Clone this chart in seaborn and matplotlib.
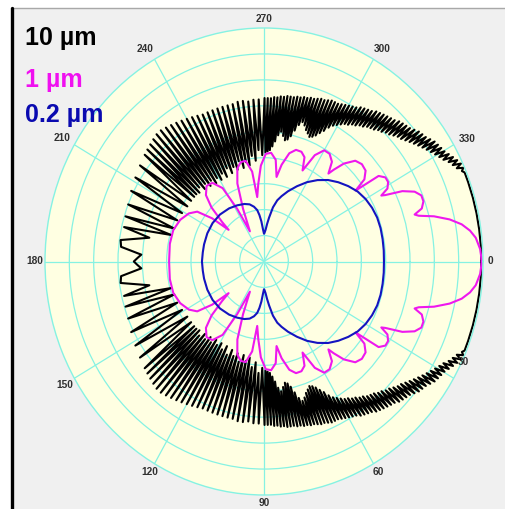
import numpy as np
import pandas as pd
import matplotlib
matplotlib.use("Agg")
import matplotlib.pyplot as plt
import seaborn as sns
from matplotlib.lines import Line2D
from matplotlib.patches import Rectangle

# ---------------- data (half pattern 0..180 deg, radius in ring units, log scale) -------------
blue_theta = [0, 5, 10, 15, 20, 25, 30, 35, 40, 45, 50, 55, 60, 65, 70, 74, 77, 80, 83, 85, 87,
              89, 90, 92, 94, 96, 98, 101, 105, 110, 117, 125, 135, 145, 155, 165, 172, 180]
blue_r = [4.93, 4.94, 4.95, 4.96, 4.95, 4.9, 4.82, 4.7, 4.52, 4.32, 4.1, 3.83, 3.53, 3.2, 2.88,
          2.62, 2.42, 2.12, 1.7, 1.45, 1.22, 1.1, 1.07, 1.25, 1.55, 1.8, 2.0, 2.15, 2.28, 2.36,
          2.43, 2.5, 2.56, 2.58, 2.57, 2.55, 2.54, 2.55]

magenta_theta = [0, 3, 6, 8, 10, 12, 14, 15.5, 16.3, 17.5, 19.5, 21.5, 23.5, 25.5, 27.2, 27.8,
                 29, 31, 33, 35, 36, 37.5, 40, 43, 46, 49, 51, 52, 54, 57, 60, 63, 65.7,
                 67.5, 70, 73, 76, 79, 81, 83, 86, 89, 92, 94.5, 96.4, 98, 101, 104, 107,
                 110, 113, 116.5, 118.5, 121, 125, 129, 133, 136, 138.5, 140, 142, 145, 149,
                 155, 162, 170, 180]
magenta_r = [8.95, 8.9, 8.75, 8.55, 8.25, 7.8, 7.2, 6.6, 6.45, 6.8, 6.95, 6.95, 6.75, 6.3, 5.6, 5.45,
             5.8, 5.95, 5.95, 5.75, 4.65, 5.2, 5.45, 5.5, 5.4, 5.0, 4.55, 4.3, 4.75, 4.95, 4.95, 4.6, 3.85,
             4.35, 4.5, 4.5, 4.3, 3.8, 3.3, 3.95, 4.2, 4.15, 3.7, 3.0, 2.5, 3.5, 3.95, 3.95, 3.75,
             3.2, 2.2, 1.3, 2.3, 3.3, 3.7, 3.75, 3.5, 3.0, 2.3, 1.9, 2.7, 3.35, 3.6,
             3.8, 3.92, 3.93, 3.9]

black_theta = [0, 4, 8, 12, 16, 20,
               22.0, 22.6, 23.2, 23.8, 24.4, 25.0, 25.6, 26.2, 26.8, 27.4,
               28.0, 28.6, 29.2, 29.8, 30.4, 31.0, 31.6, 32.2, 32.8, 33.4,
               34.0, 34.6, 35.2, 35.8, 36.4, 37.0, 37.6, 38.2, 38.8, 39.4,
               40.0, 40.6, 41.2, 41.8, 42.4, 43.0, 43.6, 44.2, 44.8, 45.4,
               46.0, 46.6, 47.2, 47.8, 48.4, 49.0, 49.6, 50.2, 50.8, 51.4,
               52.0, 52.6, 53.2, 53.8, 54.4, 55.0, 55.6, 56.2, 56.8, 57.4,
               58.0, 58.6, 59.2, 59.8, 60.4, 61.0, 61.6, 62.2, 62.8, 63.4,
               64.0, 64.6, 65.2, 65.8, 66.4, 67.0, 67.6, 68.2, 68.8, 69.4,
               70.0, 70.6, 71.2, 71.8, 72.4, 73.0, 73.6, 74.2, 74.8, 75.4,
               76.0, 76.6, 77.2, 77.8, 78.4, 79.0, 79.6, 80.2, 80.8, 81.4,
               82.0, 82.6, 83.2, 83.8, 84.4, 85.0, 85.6, 86.2, 86.8, 87.4,
               88.0, 88.6, 89.2, 89.8,
               91, 92, 93, 94, 95, 96, 97, 98, 99, 100,
               101, 102, 103, 104, 105, 106, 107, 108, 109, 110,
               111, 112, 113, 114, 115, 116, 117, 118, 119, 120,
               121, 122, 123, 124, 125, 126, 127, 128, 129, 130,
               131, 132, 133, 134, 135, 136, 137, 138, 139, 140,
               142, 144, 146, 148.5, 151, 153.5, 156, 158.5, 161, 163,
               165, 167, 169, 172, 174.5, 177, 178.5, 180]
black_r = [8.93, 8.93, 8.93, 8.93, 8.93, 8.93,
           8.93, 8.93, 8.85, 8.95, 8.7, 8.93, 8.6, 8.85, 8.5, 8.75,
           8.35, 8.65, 8.25, 8.55, 8.15, 8.5, 8.05, 8.45, 7.95, 8.4,
           7.85, 8.3, 7.75, 8.2, 7.65, 8.15, 7.55, 8.1, 7.45, 8.0,
           7.35, 7.9, 7.3, 7.85, 7.2, 7.8, 7.1, 7.75, 7.05, 7.65,
           6.95, 7.6, 6.9, 7.55, 6.8, 7.5, 6.75, 7.45, 6.7, 7.4,
           6.6, 7.3, 6.55, 7.25, 6.45, 7.2, 6.4, 7.15, 6.3, 7.05,
           6.25, 7.0, 6.15, 6.95, 6.05, 6.9, 5.95, 6.85, 5.8, 6.8,
           5.6, 6.8, 5.45, 6.8, 5.3, 6.75, 5.2, 6.7, 5.15, 6.7,
           5.25, 6.65, 5.35, 6.6, 5.5, 6.6, 5.6, 6.55, 5.45, 6.55,
           5.2, 6.5, 4.95, 6.5, 4.8, 6.45, 4.75, 6.45, 4.9, 6.45,
           5.05, 6.4, 4.9, 6.4, 4.65, 6.35, 4.45, 6.35, 4.3, 6.3,
           4.25, 6.3, 4.2, 6.3,
           4.1, 6.25, 4.3, 6.25, 3.9, 6.2, 4.1, 6.25, 3.75, 6.25,
           3.9, 6.2, 3.7, 6.2, 4.0, 6.2, 3.7, 6.2, 3.85, 6.2,
           3.65, 6.2, 3.9, 6.2, 3.6, 6.25, 3.8, 6.3, 3.6, 6.35,
           3.75, 6.4, 3.6, 6.45, 3.8, 6.5, 3.65, 6.55, 3.85, 6.6,
           3.7, 6.6, 3.9, 6.55, 3.75, 6.5, 3.8, 6.45, 3.8, 6.4,
           3.8, 6.3, 3.8, 6.2, 3.85, 6.1, 3.9, 6.0, 3.9, 5.95,
           3.95, 5.9, 4.8, 5.95, 5.9, 5.05, 5.2, 5.35]

series_labels = ["10 µm", "1 µm", "0.2 µm"]
angle_ticks = [0, 30, 60, 90, 120, 150, 180, 210, 240, 270, 300, 330]
ring_values = [1, 2, 3, 4, 5, 6, 7, 8]
r_max = 9

# label placement (theta deg, radius) for angle labels
tick_label_theta = [0, 25.3, 60, 90, 120, 149.8, 180, 209.8, 239.2, 270, 300.6, 330.5]
tick_label_r = [9.29, 9.05, 9.37, 9.31, 9.37, 9.47, 9.41, 9.57, 9.54, 9.35, 9.52, 9.59]


def mirror(th, r):
    th = np.asarray(th, float)
    r = np.asarray(r, float)
    return np.concatenate([th, 360 - th[::-1]]), np.concatenate([r, r[::-1]])


frames = []
for name, th, r in [("10 µm", black_theta, black_r),
                    ("1 µm", magenta_theta, magenta_r),
                    ("0.2 µm", blue_theta, blue_r)]:
    t, rr = mirror(th, r)
    frames.append(pd.DataFrame({"theta": np.deg2rad(t), "r": rr, "series": name,
                                "order": np.arange(len(t))}))
df = pd.concat(frames, ignore_index=True)

colors = {"10 µm": "#000000", "1 µm": "#ee18ee", "0.2 µm": "#1414c0"}
text_colors = {"10 µm": "#000000", "1 µm": "#f010f0", "0.2 µm": "#0a0ab0"}

sns.set_style("white")
plt.rcParams["font.family"] = ["Liberation Sans", "DejaVu Sans"]

W, H = 505, 509
fig = plt.figure(figsize=(W / 100, H / 100), dpi=100, facecolor="white")
fig.add_artist(Rectangle((11 / W, 0), 1 - 11 / W, 1 - 8 / H, transform=fig.transFigure,
                         facecolor="#f0f0f0", edgecolor="none", zorder=-10))
fig.add_artist(Line2D([11 / W, 1], [1 - 8 / H, 1 - 8 / H], transform=fig.transFigure,
                      color="#a8a8a8", lw=1.0))
fig.add_artist(Line2D([11.5 / W, 11.5 / W], [0, 1 - 8 / H], transform=fig.transFigure,
                      color="#000000", lw=2.4))

cx, cy, rx, ry = 264, 261.5, 219, 233.5
ax = fig.add_axes([(cx - rx) / W, (H - cy - ry) / H, 2 * rx / W, 2 * ry / H], projection="polar")
ax.set_aspect("auto")
ax.set_facecolor("#ffffe2")
ax.set_theta_zero_location("E")
ax.set_theta_direction(-1)
ax.set_ylim(0, r_max)
ax.set_xticks(np.deg2rad(angle_ticks))
ax.set_yticks(ring_values)
ax.set_xticklabels([])
ax.set_yticklabels([])
ax.grid(True, color="#86f2e2", lw=0.9)
ax.set_axisbelow(True)
ax.spines["polar"].set_color("#86f2e2")
ax.spines["polar"].set_linewidth(1.0)

for name in ["10 µm", "1 µm", "0.2 µm"]:
    sub = df[df["series"] == name]
    sns.lineplot(data=sub, x="theta", y="r", sort=False, estimator=None, ax=ax,
                 color=colors[name], lw=1.5, legend=False)
ax.set_xlabel("")
ax.set_ylabel("")

for lab, th, r in zip(angle_ticks, tick_label_theta, tick_label_r):
    ax.text(np.deg2rad(th), r, str(lab), ha="center", va="center", fontsize=7.3,
            fontweight="bold", color="#303030", clip_on=False)

baselines = [45, 87, 122]
for name, yb in zip(series_labels, baselines):
    fig.text(25 / W, 1 - yb / H, name, color=text_colors[name], fontsize=18,
             fontweight="bold", ha="left", va="baseline")

fig.savefig("out.png", dpi=100, facecolor=fig.get_facecolor())
